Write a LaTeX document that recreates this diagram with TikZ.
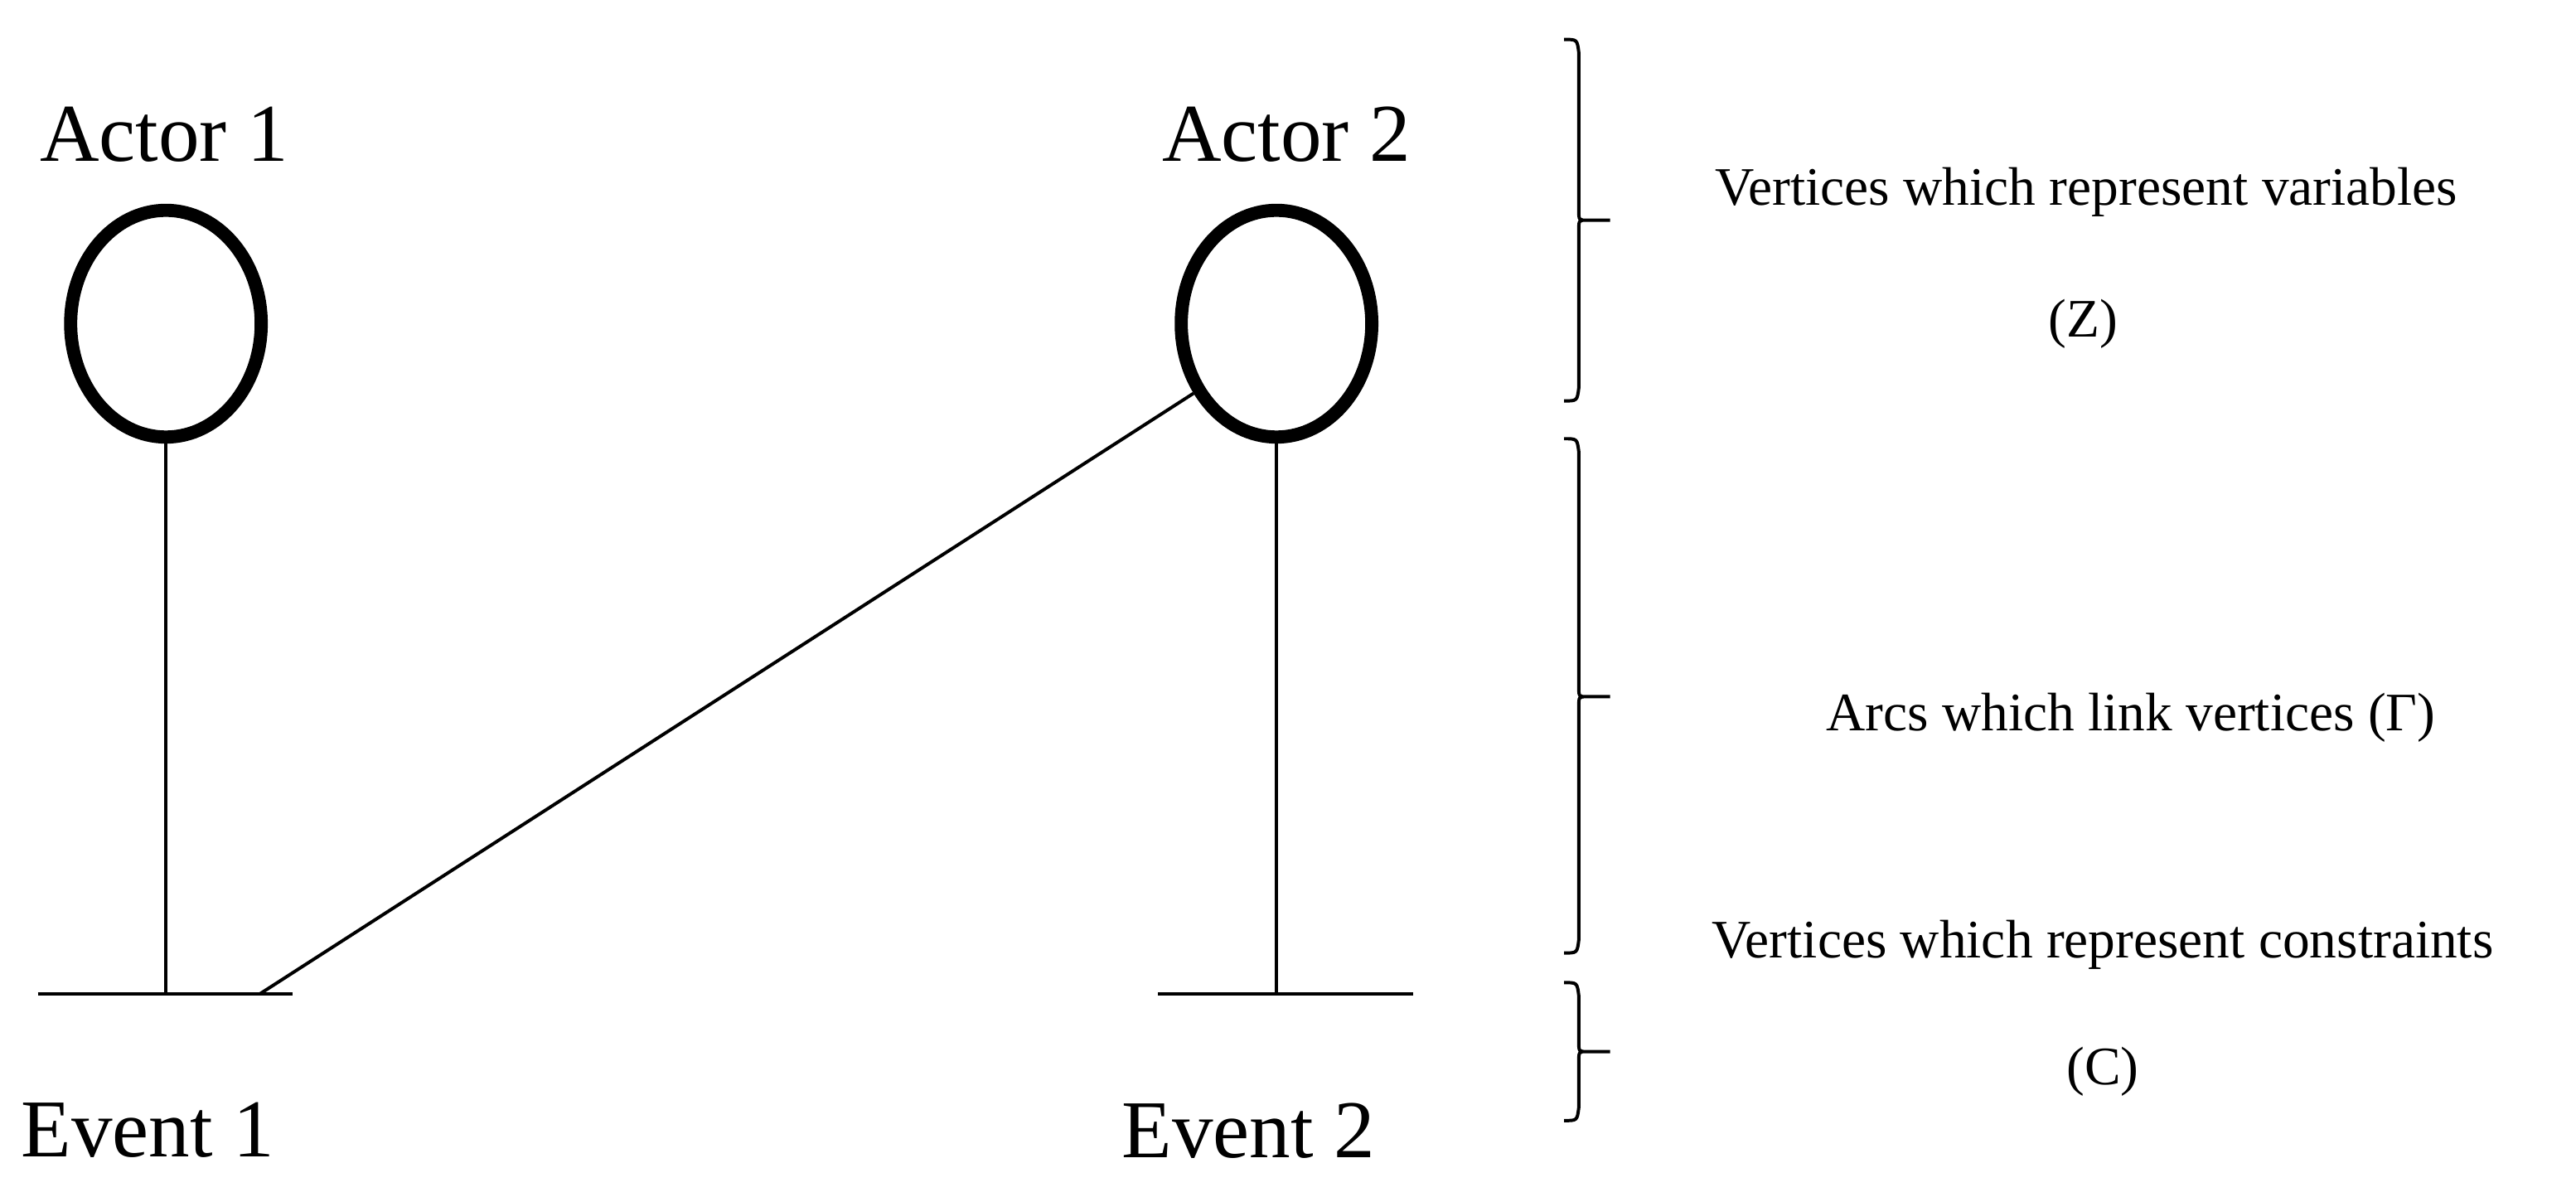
\documentclass[tikz,border=0pt]{standalone}
\usepackage{fontspec}
\setmainfont{Liberation Serif}
\usetikzlibrary{shapes.geometric}
\begin{document}
\begin{tikzpicture}[x=0.5pt,y=-0.5pt,
  actor/.style={draw,line width=4pt,ellipse,minimum width=58pt,minimum height=69pt,inner sep=0pt},
  big/.style={font=\fontsize{25}{30}\selectfont},
  small/.style={font=\fontsize{16.5}{20}\selectfont},
  ln/.style={line width=1pt},
  br/.style={line width=1pt}]
\useasboundingbox (0,0) rectangle (1568,728);
\node[actor] (a1) at (101,197) {};
\node[actor] (a2) at (777,197) {};
\node[big] (t1) at (100,82) {Actor 1};
\node[big] (t2) at (783,82) {Actor 2};
\node[big] (e1) at (90,688) {Event 1};
\node[big] (e2) at (760,688) {Event 2};
\coordinate (c1l) at (23,605); \coordinate (c1r) at (178,605); \coordinate (c1m) at (101,605);
\coordinate (c2l) at (705,605); \coordinate (c2r) at (860,605); \coordinate (c2m) at (777,605);
\coordinate (d1) at (158,605);
\draw[ln] (c1l) -- (c1r);
\draw[ln] (c2l) -- (c2r);
\draw[ln] (a1.south) -- (c1m);
\draw[ln] (a2.south) -- (c2m);
\draw[ln] (d1) -- (a2.-140);
% braces
\newcommand{\mybrace}[3]{%
 \draw[br] (952,#1) .. controls (960,#1) .. (961,{#1+8}) -- (961,{#3-6}) .. controls (961,#3) .. (966,#3) -- (980,#3)
   (966,#3) .. controls (961,#3) .. (961,{#3+6}) -- (961,{#2-8}) .. controls (960,#2) .. (952,#2);}
\mybrace{24}{244}{134}
\mybrace{267}{580}{424}
\mybrace{598}{682}{640}
\node[small] (l1) at (1270,117) {Vertices which represent variables};
\node[small] (l2) at (1268,197) {(Z)};
\node[small] (l3) at (1297,437) {Arcs which link vertices (Γ)};
\node[small] (l4) at (1280,575) {Vertices which represent constraints};
\node[small] (l5) at (1280,652) {(C)};
\end{tikzpicture}
\end{document}
